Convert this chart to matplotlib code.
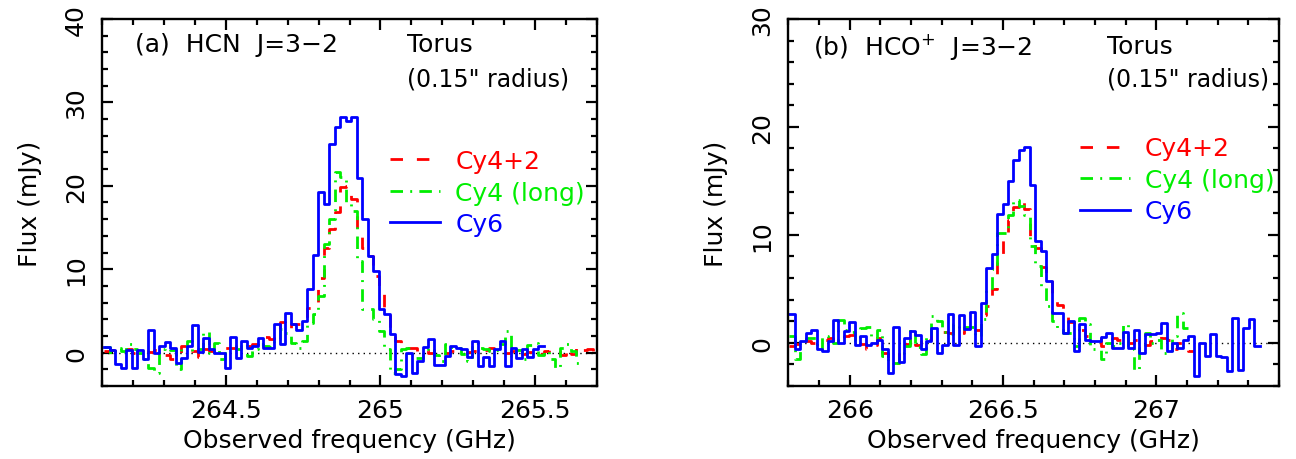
import numpy as np
import matplotlib
matplotlib.use("Agg")
import matplotlib.pyplot as plt
from matplotlib.ticker import MultipleLocator, FuncFormatter

# channel grids (GHz): first channel edge and channel width
a_start, a_width = 264.107, 0.01775
b_start, b_width = 265.803, 0.01783

# (a) HCN J=3-2, flux per channel (mJy)
a_cy42 = [0.2, 0.3, 0.4, 0.3, 0.4, 0.0, 0.0, 0.2, 0.1, 0.3,
          -0.3, -0.3, -0.8, -0.6, 0.8, 1.0, 0.2, -0.5, 0.4, 0.2,
          0.3, 0.4, 0.6, 0.5, 0.8, 0.7, 0.8, 1.0, 1.6, 1.9,
          1.6, 2.0, 3.7, 2.8, 3.4, 3.4, 4.0, 5.3, 6.1, 9.0,
          12.5, 14.8, 16.8, 19.8, 20.0, 18.4, 14.8, 12.6, 11.6, 9.2,
          7.0, 5.0, 2.6, 1.4, 0.4, 0.6, 0.5, 0.1, 0.3, 0.0,
          0.4, 0.1, 0.0, 0.2, 0.0, -0.1, 0.1, 0.2, 0.0, 0.3,
          0.5, 0.2, 0.1, 0.0, 0.2, 0.4, -0.2, 0.1, -0.4, -0.2,
          0.2, 0.3, 0.4, -0.3, 0.6, -0.2, 0.8, 0.3, 0.4, 0.2]
a_cy4long = [0.7, -0.2, 0.6, 0.2, 1.0, 0.4, 0.0, -0.8, -1.9, -2.5,
             0.4, 0.6, 0.3, -2.0, 0.6, 1.4, 0.2, 0.4, 2.5, 0.0,
             1.2, -0.8, 0.0, 0.8, 0.4, 1.0, -0.4, 0.4, 1.0, 0.8,
             0.7, 1.6, 2.8, 2.4, 1.2, 0.5, 1.4, 3.5, 4.6, 6.8,
             13.0, 16.0, 21.6, 21.0, 18.0, 17.0, 11.0, 5.2, 5.2, 4.0,
             2.6, 0.4, -2.4, -2.0, 0.4, 0.6, -0.6, -0.6, 0.4, 0.5,
             -0.3, -1.0, 1.0, 0.7, 0.6, -0.2, -1.0, 1.2, 0.5, 0.4,
             0.2, 0.3, 1.0, 2.6, -0.4, 0.3, -0.8, 0.9, 1.2, -0.3,
             0.2, -0.8, -1.8, 0.6, 1.0, 0.2, -1.2]
a_cy6 = [0.7, 0.3, -1.4, -1.8, 0.3, -1.9, 0.3, -0.8, 2.7, 0.0,
         0.8, 1.3, 0.5, -1.2, -0.6, 0.8, 3.3, 0.1, 1.7, 0.4,
         0.0, 0.0, -1.9, 1.9, -0.6, 1.4, 0.6, 0.8, 1.8, 0.6,
         0.6, 3.4, 1.0, 4.8, 3.4, 2.7, 3.8, 7.6, 11.7, 19.3,
         17.8, 25.0, 27.1, 28.3, 27.8, 28.3, 20.9, 16.0, 11.6, 9.8,
         5.2, 4.6, 2.2, -2.6, -2.8, 0.0, -2.4, -1.0, 0.7, 1.6,
         -1.5, -1.5, -0.4, 0.8, 0.6, 0.4, -0.5, 1.4, -1.6, -0.5,
         -1.6, 0.4, 1.4, -1.6, 0.6, -0.6, 0.4, -0.5, 0.4, 0.8]

# (b) HCO+ J=3-2
b_cy42 = [-0.3, -0.1, 0.4, 0.2, 0.0, 0.2, 0.3, 0.4, 0.3, 0.2,
          0.6, 0.7, 0.6, -0.1, -0.6, -0.2, 0.4, -0.9, -1.6, -1.9,
          -0.6, -0.1, 0.6, -0.2, 0.5, 0.3, 1.1, 1.2, 1.0, 0.9,
          1.2, 0.9, 1.4, 1.7, 1.2, 2.6, 3.4, 5.0, 7.5, 9.8,
          11.4, 12.6, 13.3, 12.4, 9.5, 8.8, 7.0, 5.9, 3.9, 3.5,
          2.9, 1.9, 1.4, 1.2, 0.6, 0.5, 0.5, -0.3, 0.0, 0.4,
          0.3, 0.4, 0.0, 0.3, -0.3, -0.2, 0.2, 0.6, 0.4, 0.3,
          -0.6, 0.0, -0.1, -0.8]
b_cy4long = [0.6, -1.5, 0.0, 0.4, 0.4, -0.6, 0.6, 0.2, 0.0, 2.1,
             1.2, 1.0, 0.2, 1.4, 1.5, 0.4, 1.2, -1.2, -1.8, -1.9,
             -0.9, -0.3, 1.3, -0.4, -1.0, 0.6, 2.5, 2.0, 1.0, 0.8,
             1.7, 1.2, 1.5, 1.5, 0.6, 2.2, 4.9, 6.8, 10.2, 10.2,
             11.8, 13.2, 12.7, 11.8, 9.0, 7.1, 5.3, 3.4, 2.0, 1.4,
             0.9, 0.9, -0.3, 2.3, 1.7, -0.6, -0.6, -1.5, 0.0, -0.3,
             0.0, 1.7, -0.6, -2.5, -0.3, 0.9, 0.0, 0.3, -0.9, -0.9,
             0.6, 2.8, 1.4]
b_cy6 = [2.7, -0.6, 0.2, 0.9, 1.2, -0.6, -0.8, 0.2, 2.1, 0.0,
         1.1, 1.9, -0.2, 0.6, -0.2, 0.0, 0.3, -0.6, -2.8, 1.5,
         -1.8, 0.4, 1.1, 0.7, -0.6, 0.2, 1.4, -0.9, -0.2, 2.7,
         -0.2, 2.6, 1.3, 2.9, -0.3, 3.7, 6.9, 8.2, 11.9, 12.9,
         15.0, 16.9, 17.9, 18.1, 14.6, 9.4, 8.5, 5.7, 2.8, 2.8,
         0.9, 2.0, -0.8, 1.7, 0.3, 0.2, 0.2, 0.5, 0.9, -0.5,
         -0.5, 1.0, -0.5, 1.2, -0.9, 0.8, 0.8, 0.9, 1.8, -0.8,
         0.0, -0.5, 0.3, 0.6, -3.1, 0.0, -1.2, 0.8, -1.2, -1.3,
         -2.6, 2.3, -2.5, 1.4, 2.2, -0.3]

labels = ['Cy4+2', 'Cy4 (long)', 'Cy6']
colors = ['#ff0000', '#00ee00', '#0000ff']
styles = [(0, (4.5, 5)), (0, (4.5, 2.6, 0.7, 2.6)), '-']

plt.rcParams['font.family'] = 'DejaVu Sans'
plt.rcParams['font.size'] = 18


def spectrum(ax, vals, start, width, **kw):
    edges = start + width * np.arange(len(vals) + 1)
    ax.step(edges, np.append(vals, vals[-1]), where='post', **kw)


def setup(ax, xlim, ylim):
    ax.set_xlim(*xlim)
    ax.set_ylim(*ylim)
    ax.axhline(0, color='k', ls=(0, (1, 3)), lw=1.0, zorder=0)
    ax.xaxis.set_major_locator(MultipleLocator(0.5))
    ax.xaxis.set_minor_locator(MultipleLocator(0.1))
    ax.yaxis.set_major_locator(MultipleLocator(10))
    ax.yaxis.set_minor_locator(MultipleLocator(2))
    ax.xaxis.set_major_formatter(FuncFormatter(lambda v, p: '%g' % v))
    ax.tick_params(which='both', direction='in', top=True, right=True, width=1.6)
    ax.tick_params(which='major', length=8)
    ax.tick_params(which='minor', length=4.5)
    ax.tick_params(axis='x', pad=9)
    ax.tick_params(axis='y', labelrotation=90, pad=10)
    for lbl in ax.get_yticklabels():
        lbl.set_va('center')
    for s in ax.spines.values():
        s.set_linewidth(1.7)
    ax.set_xlabel('Observed frequency (GHz)', labelpad=4)
    ax.set_ylabel('Flux (mJy)', labelpad=16)


fig = plt.figure(figsize=(12.96, 4.6), dpi=100)
ax1 = fig.add_axes([0.0787, 0.1587, 0.382, 0.798])
ax2 = fig.add_axes([0.6083, 0.1587, 0.3786, 0.798])

for vals, lab, c, ls in zip([a_cy42, a_cy4long, a_cy6], labels, colors, styles):
    spectrum(ax1, vals, a_start, a_width, color=c, ls=ls, lw=2.0, label=lab)
for vals, lab, c, ls in zip([b_cy42, b_cy4long, b_cy6], labels, colors, styles):
    spectrum(ax2, vals, b_start, b_width, color=c, ls=ls, lw=2.0, label=lab)

setup(ax1, (264.1, 265.7), (-4, 40))
setup(ax2, (265.8, 267.4), (-4, 30))

ax1.text(0.067, 0.932, '(a)  HCN  J=3\u22122', transform=ax1.transAxes, va='center')
ax1.text(0.616, 0.932, 'Torus', transform=ax1.transAxes, va='center')
ax1.text(0.616, 0.837, '(0.15" radius)', transform=ax1.transAxes, va='center', fontsize=17)
ax2.text(0.051, 0.926, '(b)  HCO$^{+}$  J=3\u22122', transform=ax2.transAxes, va='center')
ax2.text(0.65, 0.926, 'Torus', transform=ax2.transAxes, va='center')
ax2.text(0.65, 0.837, '(0.15" radius)', transform=ax2.transAxes, va='center', fontsize=17)

leg_kw = dict(loc='upper left', frameon=False, labelcolor='linecolor', fontsize=18,
              handlelength=2.0, handletextpad=0.6, labelspacing=0.3,
              borderpad=0, borderaxespad=0)
ax1.legend(bbox_to_anchor=(0.582, 0.645), **leg_kw)
ax2.legend(bbox_to_anchor=(0.594, 0.68), **leg_kw)

fig.savefig('out.png', dpi=100)
